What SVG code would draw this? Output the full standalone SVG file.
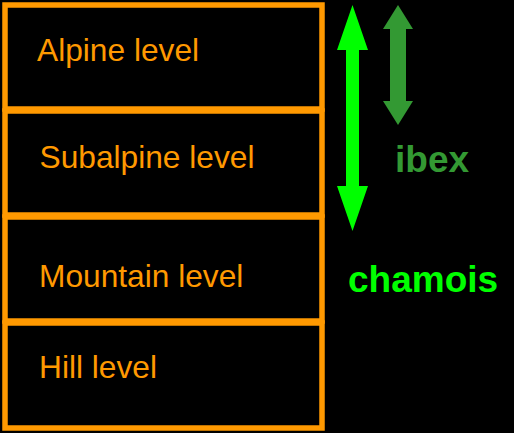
<svg xmlns="http://www.w3.org/2000/svg" width="514" height="433" viewBox="0 0 514 433">
  <style>
    .level rect { fill: none; stroke: #ff9900; stroke-width: 5.5; }
    .level text { fill: #ff9900; font-family: "Liberation Sans", Arial, sans-serif; font-size: 31.7px; }
    .label { font-family: "Liberation Sans", Arial, sans-serif; font-weight: bold; font-size: 37px; }
  </style>
  <rect width="514" height="433" fill="#000"/>

  <!-- altitude levels -->
  <g id="alpine" class="level">
    <rect x="5" y="5" width="317" height="104"/>
    <text x="37" y="61">Alpine level</text>
  </g>
  <g id="subalpine" class="level">
    <rect x="5" y="111" width="317" height="104"/>
    <text x="39.5" y="168">Subalpine level</text>
  </g>
  <g id="mountain" class="level">
    <rect x="5" y="217" width="317" height="104"/>
    <text x="39" y="287">Mountain level</text>
  </g>
  <g id="hill" class="level">
    <rect x="5" y="323" width="317" height="105"/>
    <text x="39" y="378">Hill level</text>
  </g>

  <!-- range arrows -->
  <g id="connectors">
    <polygon fill="#00ff00" points="352.5,5 368,50 359,50 359,186 368,186 352.5,231 337,186 346,186 346,50 337,50"/>
    <polygon fill="#339933" points="398,5 413,29 406,29 406,101 413,101 398,125 383,101 390,101 390,29 383,29"/>
  </g>

  <g id="ibex">
    <text class="label" x="395" y="172" fill="#339933">ibex</text>
  </g>
  <g id="chamois">
    <text class="label" x="348" y="292" fill="#00ff00">chamois</text>
  </g>
</svg>
